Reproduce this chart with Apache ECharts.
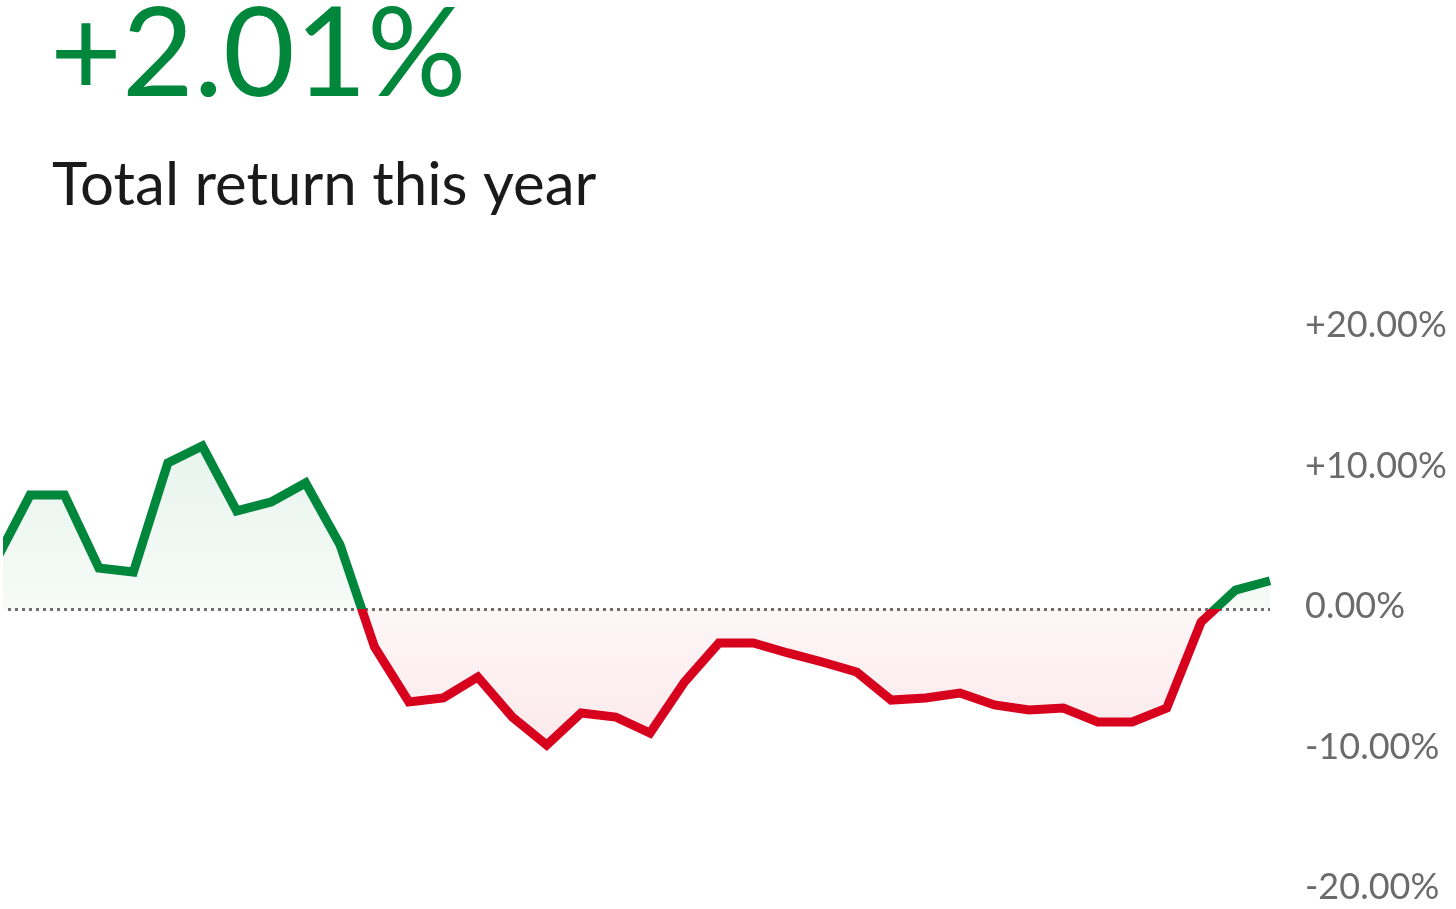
<!DOCTYPE html>
<html>
<head>
<meta charset="utf-8">
<script src="https://cdn.jsdelivr.net/npm/echarts@6/dist/echarts.min.js"></script>
<style>
  html, body { margin: 0; padding: 0; background: #ffffff; }
  #chart { width: 1456px; height: 909px; }
</style>
</head>
<body>
<div id="chart"></div>
<script>
// ---- data ----
const headline = '+2.01%';
const subtitle = 'Total return this year';
const periods = [0,1,2,3,4,5,6,7,8,9,10,11,12,13,14,15,16,17,18,19,20,21,22,23,24,25,26,27,28,29,30,31,32,33,34,35,36,37];
const returns = [3.4, 8.11, 8.11, 2.92, 2.63, 10.39, 11.6, 6.98, 7.62, 8.97, 4.56, -2.7, -6.62, -6.33, -4.84, -7.69, -9.68, -7.4, -7.69, -8.83, -5.2, -2.42, -2.42, -3.13, -3.77, -4.48, -6.48, -6.33, -5.98, -6.83, -7.19, -7.05, -8.04, -8.04, -7.05, -0.93, 1.35, 2.01];
const yTicks = [-20, -10, 0, 10, 20];
const yTickLabels = ['-20.00%', '-10.00%', '0.00%', '+10.00%', '+20.00%'];

// ---- styling ----
const GREEN = '#00873c';
const RED = '#d7001d';
const FONT = 'Lato';

const maxV = Math.max(...returns);
const minV = Math.min(...returns);
const zeroFrac = maxV / (maxV - minV);

const chart = echarts.init(document.getElementById('chart'), null, { renderer: 'canvas' });
chart.setOption({
  animation: false,
  backgroundColor: '#ffffff',
  graphic: [
    { type: 'text', left: 50, top: -6, style: { text: headline, fill: GREEN, font: 'normal 124px ' + FONT } },
    { type: 'text', left: 52, top: 156, style: { text: subtitle, fill: '#1a1a1a', font: 'normal 60px ' + FONT } }
  ],
  grid: { left: 8, right: 186, top: 328, bottom: 19, containLabel: false },
  xAxis: {
    type: 'value',
    min: 0.36,
    max: periods[periods.length - 1],
    axisLabel: { show: false },
    axisTick: { show: false },
    splitLine: { show: false },
    axisLine: { show: false }
  },
  yAxis: {
    type: 'value',
    position: 'right',
    min: yTicks[0],
    max: yTicks[yTicks.length - 1],
    interval: 10,
    axisLine: { show: false },
    axisTick: { show: false },
    splitLine: { show: false },
    axisLabel: {
      margin: 35,
      color: '#6b6b6b',
      fontSize: 36,
      fontFamily: FONT,
      align: 'left',
      verticalAlign: 'bottom',
      lineHeight: 5,
      formatter: function (v) { return yTickLabels[yTicks.indexOf(v)]; }
    }
  },
  visualMap: {
    type: 'piecewise',
    show: false,
    seriesIndex: 0,
    dimension: 1,
    pieces: [
      { gt: 0, lte: 1000, color: GREEN },
      { gt: -1000, lte: 0, color: RED }
    ]
  },
  series: [{
    type: 'line',
    data: periods.map((p, i) => [p, returns[i]]),
    symbol: 'none',
    z: 3,
    lineStyle: { width: 9, join: 'miter' },
    areaStyle: {
      origin: 0,
      color: new echarts.graphic.LinearGradient(0, 0, 0, 1, [
        { offset: 0, color: 'rgba(0,135,60,0.13)' },
        { offset: zeroFrac, color: 'rgba(0,135,60,0.05)' },
        { offset: zeroFrac, color: 'rgba(215,0,29,0.05)' },
        { offset: 1, color: 'rgba(215,0,29,0.12)' }
      ])
    },
    markLine: {
      silent: true,
      symbol: 'none',
      label: { show: false },
      z: 2,
      lineStyle: { color: '#6e6e6e', width: 3, type: [3, 4] },
      data: [{ yAxis: 0 }]
    }
  }]
});
</script>
</body>
</html>
